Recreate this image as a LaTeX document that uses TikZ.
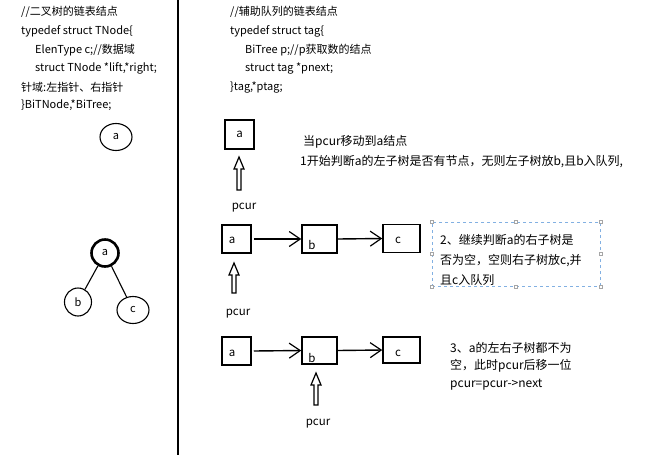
\documentclass[tikz,border=0pt]{standalone}
\usepackage{fontspec}
\setmainfont{Noto Sans CJK SC}
\usetikzlibrary{arrows.meta,shapes.geometric}
\tikzset{
  code/.style={anchor=west,inner sep=0pt,font=\fontsize{11}{12}\selectfont},
  note/.style={anchor=west,inner sep=0pt,font=\fontsize{12}{13}\selectfont},
  lbl/.style={inner sep=0pt,font=\fontsize{11.5}{12}\selectfont},
  qbox/.style={draw,line width=1.5pt,minimum width=#1,minimum height=28pt,inner sep=0pt},
  tnode/.style={draw,ellipse,line width=1.1pt,inner sep=0pt,font=\fontsize{11}{12}\selectfont},
  link/.style={line width=1.4pt,-{Straight Barb[length=11pt,width=15pt,line width=1.2pt]}},
  hollow/.style={draw,line width=1.2pt,line join=miter},
  handle/.style={draw=gray!70,fill=white,line width=0.4pt,minimum size=3pt,inner sep=0pt}
}
\newcommand\hollowup[3]{%
  \draw[hollow] (#1-5,#2+12) -- (#1,#2) -- (#1+5,#2+12) -- (#1+2,#2+12) -- (#1+2,#3) -- (#1-2,#3) -- (#1-2,#2+12) -- cycle;}
\begin{document}
\begin{tikzpicture}[x=1pt,y=-1pt]
\useasboundingbox (0,0) rectangle (645,472);
\fill[white] (0,0) rectangle (645,472);
% divider
\draw[line width=1.6pt] (178,0) -- (178,455);
% left code
\node[code] (l1) at (21,12) {//二叉树的链表结点};
\node[code] (l2) at (21,31) {typedef struct TNode\{};
\node[code] (l3) at (35,50) {ElenType c;//数据域};
\node[code] (l4) at (35,68) {struct TNode *lift,*right;};
\node[code] (l5) at (21,87) {针域:左指针、右指针};
\node[code] (l6) at (21,105) {\}BiTNode,*BiTree;};
% right code
\node[code] (r1) at (230,12) {//辅助队列的链表结点};
\node[code] (r2) at (230,31) {typedef struct tag\{};
\node[code] (r3) at (245,50) {BiTree p;//p获取数的结点};
\node[code] (r4) at (245,68) {struct tag *pnext;};
\node[code] (r5) at (230,87) {\}tag,*ptag;};
% single tree node
\node[tnode,minimum width=32pt,minimum height=27pt] (sa) at (116,137) {a};
% tree
\node[tnode,line width=2.6pt,minimum width=27pt,minimum height=27pt] (ta) at (105,253) {a};
\node[tnode,minimum width=27pt,minimum height=28pt] (tb) at (78,302) {b};
\node[tnode,minimum width=32pt,minimum height=27pt] (tc) at (133,310) {c};
\draw[line width=1.1pt] (ta) -- (tb);
\draw[line width=1.1pt] (ta) -- (tc);
% step 1
\node[qbox=29pt,minimum height=29pt] (a1) at (239.5,134.5) {};
\node[lbl] (a1t) at (a1) {a};
\hollowup{239}{157}{190}
\node[lbl] (p1) at (244,208) {pcur};
\node[note] (n11) at (303,142) {当pcur移动到a结点};
\node[note] (n12) at (300,162) {1开始判断a的左子树是否有节点，无则左子树放b,且b入队列,};
% step 2
\node[qbox=29pt] (a2) at (236.5,239) {};
\node[qbox=35pt] (b2) at (319.5,239) {};
\node[qbox=37pt] (c2) at (401.5,238.5) {};
\node[lbl] (a2t) at (232,240) {a};
\node[lbl] (b2t) at (312,245) {b};
\node[lbl] (c2t) at (398,240) {c};
\draw[link] (a2.east) ++(2,0) coordinate (a2s) -- (b2.west);
\draw[link] (b2.east) -- (c2.west);
\hollowup{234}{263}{293}
\node[lbl] (p2) at (238,314) {pcur};
\node[draw=cyan!60!blue!50,dashed,line width=0.6pt,minimum width=168pt,minimum height=64pt,inner sep=0pt] (d2) at (516,254) {};
\foreach \an in {north west,north,north east,east,south east,south,south west,west}
  \node[handle] at (d2.\an) {};
\node[note] (n21) at (440,240) {2、继续判断a的右子树是};
\node[note] (n22) at (440,261) {否为空，空则右子树放c,并};
\node[note] (n23) at (440,280) {且c入队列};
% step 3
\node[qbox=29pt] (a3) at (236.5,351) {};
\node[qbox=35pt,minimum height=27pt] (b3) at (319.5,350.5) {};
\node[qbox=37pt,minimum height=26pt] (c3) at (401.5,350) {};
\node[lbl] (a3t) at (232,353) {a};
\node[lbl] (b3t) at (312,358) {b};
\node[lbl] (c3t) at (398,353) {c};
\draw[link] (a3.east) ++(2,0) coordinate (a3s) -- (b3.west);
\draw[link] (b3.east) -- (c3.west);
\hollowup{316}{373}{405}
\node[lbl] (p3) at (318,424) {pcur};
\node[note] (n31) at (450,348) {3、a的左右子树都不为};
\node[note] (n32) at (450,366) {空，此时pcur后移一位};
\node[note] (n33) at (450,385) {pcur=pcur->next};
\end{tikzpicture}
\end{document}
